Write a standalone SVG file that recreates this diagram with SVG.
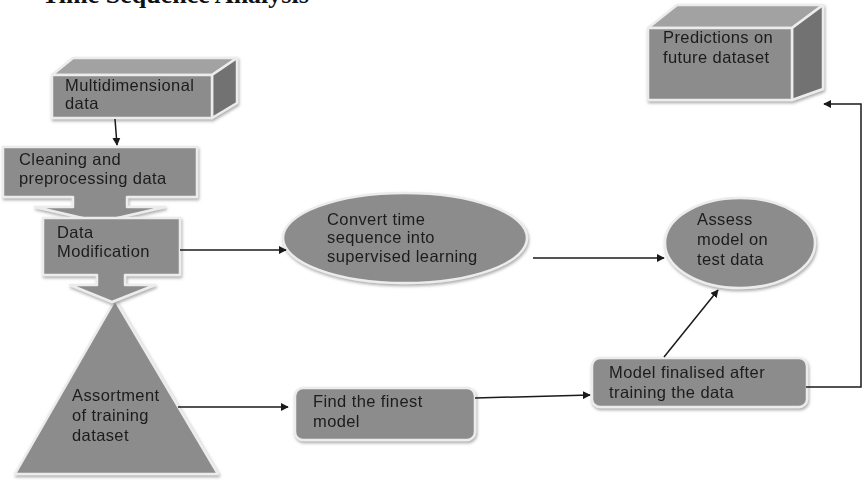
<svg xmlns="http://www.w3.org/2000/svg" width="865" height="480" viewBox="0 0 865 480">
<style>
.t{font-family:"Liberation Sans",Arial,sans-serif;font-size:16.5px;fill:#1c1c1c;letter-spacing:0.4px}
.title{font-family:"Liberation Serif","Times New Roman",serif;font-size:26px;font-weight:bold;fill:#111}
.face{fill:#8c8c8c;stroke:#ececec;stroke-width:2.5;stroke-linejoin:round}
.top{fill:#a2a2a2;stroke:#ececec;stroke-width:2.5;stroke-linejoin:round}
.side{fill:#727272;stroke:#ececec;stroke-width:2.5;stroke-linejoin:round}
.c{fill:none;stroke:#1a1a1a;stroke-width:1.5}
</style>
<defs>
<filter id="sh" x="-10%" y="-10%" width="125%" height="130%">
<feDropShadow dx="1" dy="2" stdDeviation="1.5" flood-color="#777" flood-opacity="0.6"/>
</filter>
<marker id="ah" viewBox="0 0 10 10" refX="9" refY="5" markerWidth="8" markerHeight="8" markerUnits="userSpaceOnUse" orient="auto">
<path d="M0,0 L10,5 L0,10 z" fill="#1a1a1a"/>
</marker>
</defs>
<rect width="865" height="480" fill="#ffffff"/>
<text class="title" x="42" y="3">Time Sequence Analysis</text>

<g id="multidimensional" filter="url(#sh)">
<polygon class="top" points="52,75 73,58 237,58 212,75"/>
<polygon class="side" points="212,75 237,58 237,103 212,118"/>
<rect class="face" x="52" y="75" width="160" height="43"/>
<text class="t" x="65" y="91">Multidimensional</text>
<text class="t" x="65" y="109">data</text>
</g>

<g id="cleaning" filter="url(#sh)">
<polygon class="face" points="3,147 197,147 197,197 127,197 127,207 165,207 100,222 35,207 73,207 73,197 3,197"/>
<text class="t" x="19" y="165">Cleaning and</text>
<text class="t" x="19" y="184">preprocessing data</text>
</g>

<g id="assortment" filter="url(#sh)">
<polygon class="face" points="115,300 218,474 15,474"/>
<text class="t" x="72" y="401">Assortment</text>
<text class="t" x="72" y="421">of training</text>
<text class="t" x="72" y="441">dataset</text>
</g>

<g id="modification" filter="url(#sh)">
<polygon class="face" points="43,218 180,218 180,275 125,275 125,285 155,285 112,302 70,285 97,285 97,275 43,275"/>
<text class="t" x="57" y="238">Data</text>
<text class="t" x="57" y="257">Modification</text>
</g>

<g id="convert" filter="url(#sh)">
<ellipse class="face" cx="405" cy="238" rx="122" ry="45"/>
<text class="t" x="327" y="225">Convert time</text>
<text class="t" x="327" y="243">sequence into</text>
<text class="t" x="327" y="262">supervised learning</text>
</g>

<g id="assess" filter="url(#sh)">
<ellipse class="face" cx="740" cy="243" rx="75" ry="45"/>
<text class="t" x="697" y="225">Assess</text>
<text class="t" x="697" y="245">model on</text>
<text class="t" x="697" y="265">test data</text>
</g>

<g id="finest" filter="url(#sh)">
<rect class="face" x="295" y="388" width="180" height="52" rx="8"/>
<text class="t" x="313" y="407">Find the finest</text>
<text class="t" x="313" y="427">model</text>
</g>

<g id="finalised" filter="url(#sh)">
<rect class="face" x="592" y="358" width="215" height="49" rx="8"/>
<text class="t" x="609" y="378">Model finalised after</text>
<text class="t" x="609" y="398">training the data</text>
</g>

<g id="predictions" filter="url(#sh)">
<polygon class="top" points="648,28 677,5 823,5 792,28"/>
<polygon class="side" points="792,28 823,5 823,89 792,100"/>
<rect class="face" x="648" y="28" width="144" height="72"/>
<text class="t" x="663" y="43">Predictions on</text>
<text class="t" x="663" y="63">future dataset</text>
</g>

<g id="connectors">
<line class="c" x1="115" y1="119" x2="117" y2="145" marker-end="url(#ah)"/>
<line class="c" x1="180" y1="250" x2="286" y2="250" marker-end="url(#ah)"/>
<line class="c" x1="533" y1="258" x2="664" y2="258" marker-end="url(#ah)"/>
<line class="c" x1="178" y1="407" x2="288" y2="407" marker-end="url(#ah)"/>
<line class="c" x1="475" y1="398" x2="590" y2="395" marker-end="url(#ah)"/>
<line class="c" x1="664" y1="357" x2="718" y2="290" marker-end="url(#ah)"/>
<polyline class="c" points="806,387 861,387 861,104 824,104" marker-end="url(#ah)"/>
</g>
</svg>
